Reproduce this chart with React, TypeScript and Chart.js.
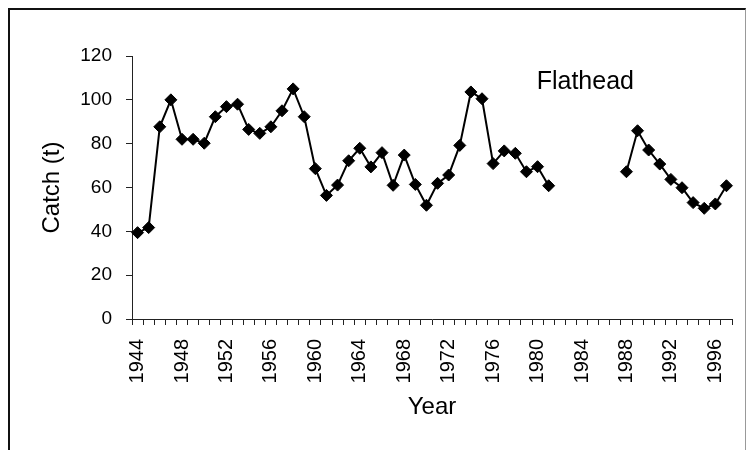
import React, { useEffect, useRef } from "react";
import { Chart, registerables } from "chart.js";

Chart.register(...registerables);

const years: string[] = [
  "1944", "1945", "1946", "1947", "1948", "1949", "1950", "1951", "1952", "1953",
  "1954", "1955", "1956", "1957", "1958", "1959", "1960", "1961", "1962", "1963",
  "1964", "1965", "1966", "1967", "1968", "1969", "1970", "1971", "1972", "1973",
  "1974", "1975", "1976", "1977", "1978", "1979", "1980", "1981", "1982", "1983",
  "1984", "1985", "1986", "1987", "1988", "1989", "1990", "1991", "1992", "1993",
  "1994", "1995", "1996", "1997",
];

const catchValues: (number | null)[] = [
  39.4, 41.7, 87.7, 100, 82, 82, 80.2, 92.3, 96.9, 98,
  86.5, 84.7, 87.7, 95, 105, 92.3, 68.6, 56.4, 61.1, 72.2,
  77.9, 69.4, 75.9, 61, 74.8, 61.4, 51.9, 61.9, 65.7, 79.2,
  103.6, 100.5, 70.9, 76.7, 75.6, 67.2, 69.5, 60.8, null, null,
  null, null, null, null, 67.2, 85.9, 77.1, 70.7, 63.7, 59.9,
  53.1, 50.5, 52.5, 60.8,
];

const tickLabels: string[] = [
  "1944", "1948", "1952", "1956", "1960", "1964", "1968",
  "1972", "1976", "1980", "1984", "1988", "1992", "1996",
];

const yTicks: number[] = [0, 20, 40, 60, 80, 100, 120];

const seriesName = "Flathead";
const xTitle = "Year";
const yTitle = "Catch (t)";

const FONT = "'Liberation Sans', Arial, Helvetica, sans-serif";

export default function App() {
  const ref = useRef<HTMLCanvasElement | null>(null);

  useEffect(() => {
    document.documentElement.style.overflow = "hidden";
    const canvas = ref.current;
    if (!canvas) return;

    const labelPlugin = {
      id: "seriesLabel",
      afterDatasetsDraw(chart: any) {
        const { ctx, scales } = chart;
        const x = scales.x.getPixelForValue(40.3);
        const y = scales.y.getPixelForValue(108.1);
        ctx.save();
        ctx.font = `25px ${FONT}`;
        ctx.fillStyle = "#000";
        ctx.textAlign = "center";
        ctx.textBaseline = "middle";
        ctx.fillText(seriesName, x, y);
        ctx.restore();
      },
    };

    const chart = new Chart(canvas, {
      type: "line",
      data: {
        labels: years,
        datasets: [
          {
            label: seriesName,
            data: catchValues,
            borderColor: "#000",
            backgroundColor: "#000",
            borderWidth: 2,
            pointStyle: "rectRot",
            pointRadius: 6,
            pointBorderWidth: 1,
            pointBackgroundColor: "#000",
            pointBorderColor: "#000",
            spanGaps: false,
            tension: 0,
          },
        ],
      },
      options: {
        animation: false,
        responsive: false,
        devicePixelRatio: 1,
        layout: { padding: { left: 0, right: 13, top: 46, bottom: 0 } },
        plugins: {
          legend: { display: false },
          tooltip: { enabled: false },
        },
        scales: {
          x: {
            type: "category",
            offset: true,
            grid: {
              display: true,
              offset: true,
              drawOnChartArea: false,
              drawTicks: true,
              tickLength: 6,
              color: "#222",
            },
            border: { display: true, color: "#222", width: 1 },
            ticks: {
              autoSkip: false,
              minRotation: 90,
              maxRotation: 90,
              padding: 14,
              color: "#000",
              font: { family: FONT, size: 20 },
              callback: function (this: any, value: any, index: number) {
                const lab = years[index];
                return tickLabels.includes(lab) ? lab : "";
              },
            },
            title: {
              display: true,
              text: xTitle,
              color: "#000",
              font: { family: FONT, size: 24 },
              padding: { top: 0, bottom: 28 },
            },
            afterFit(scale: any) {
              scale.height = 131;
              scale.paddingLeft = 0;
              scale.paddingRight = 0;
            },
          },
          y: {
            min: 0,
            max: 120,
            afterBuildTicks(scale: any) {
              scale.ticks = yTicks.map((v) => ({ value: v }));
            },
            grid: {
              display: true,
              drawOnChartArea: false,
              drawTicks: true,
              tickLength: 6,
              color: "#222",
            },
            border: { display: true, color: "#222", width: 1 },
            ticks: {
              padding: 14,
              color: "#000",
              font: { family: FONT, size: 19 },
            },
            title: {
              display: true,
              text: yTitle,
              color: "#000",
              font: { family: FONT, size: 24 },
              padding: { top: 28, bottom: 0 },
            },
            afterFit(scale: any) {
              scale.width = 122;
              scale.paddingTop = 0;
              scale.paddingBottom = 0;
            },
          },
        },
      },
      plugins: [labelPlugin],
    } as any);

    return () => {
      chart.destroy();
    };
  }, []);

  return (
    <div
      style={{
        position: "fixed",
        left: 8,
        top: 8,
        width: 735,
        height: 442,
        borderLeft: "2px solid #111",
        borderTop: "2px solid #111",
        borderRight: "1px solid #999",
        background: "#fff",
      }}
    >
      <canvas
        ref={ref}
        width={735}
        height={440}
        style={{ display: "block", width: 735, height: 440 }}
      />
    </div>
  );
}
